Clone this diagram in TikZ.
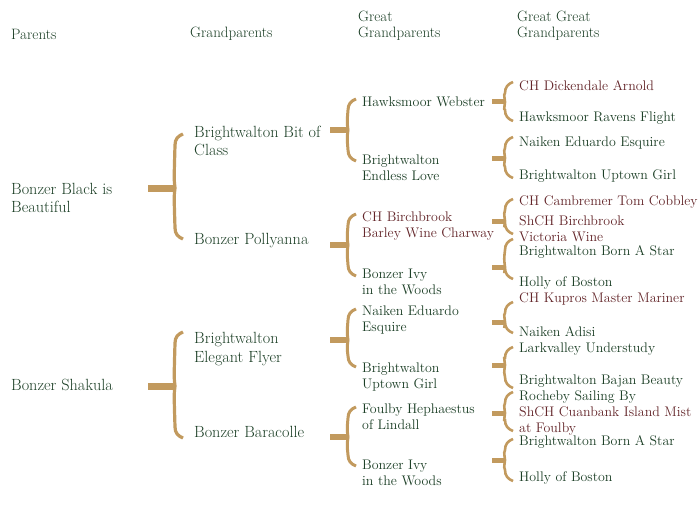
\documentclass[tikz,border=0pt]{standalone}
\usepackage{fontspec}
\setmainfont{Latin Modern Roman}
\definecolor{gold}{HTML}{C29A5E}
\definecolor{grn}{HTML}{1C3F26}
\definecolor{mar}{HTML}{632529}
\tikzset{
  lbl/.style={anchor=west,inner sep=0pt,align=left,text=grn},
  big/.style={lbl,font=\fontsize{16.2}{18.5}\selectfont},
  sml/.style={lbl,font=\fontsize{13.9}{16}\selectfont},
  hdr/.style={lbl,font=\fontsize{15}{16}\selectfont},
  ch/.style={text=mar},
}
% \Brk{xv}{top}{bottom}{stub y}{stub start x}{stub width}{line width}
\newcommand\Brk[7]{%
  \draw[gold,line width=#7,line cap=butt]
    (#1+8,#2-1) .. controls (#1+3,#2+1) and (#1,#2+4) .. (#1,#2+10)
    .. controls (#1-1,#4-8) .. (#1,#4)
    .. controls (#1-1,#4+8) .. (#1,#3-10)
    .. controls (#1,#3-4) and (#1+3,#3-1) .. (#1+8,#3+1);
  \draw[gold,line width=#6] (#5,#4) -- (#1+0.5,#4);
}
\begin{document}
\begin{tikzpicture}[x=1pt,y=-1pt]
\useasboundingbox[fill=white] (0,0) rectangle (700,505);
% headers
\node[hdr] (h1) at (11,34) {Parents};
\node[hdr] (h2) at (190,34) {Grandparents};
\node[hdr] (h3) at (358,26) {Great\\Grandparents};
\node[hdr] (h4) at (517,26) {Great Great\\Grandparents};
% generation 1
\node[big] (p1) at (11,198) {Bonzer Black is\\Beautiful};
\node[big] (p2) at (11,385) {Bonzer Shakula};
% generation 2
\node[big] (g1) at (194,141) {Brightwalton Bit of\\Class};
\node[big] (g2) at (194,241) {Bonzer Pollyanna};
\node[big] (g3) at (194,349) {Brightwalton\\Elegant Flyer};
\node[big] (g4) at (194,432) {Bonzer Baracolle};
% generation 3
\node[sml] (s1) at (362,102) {Hawksmoor Webster};
\node[sml] (s2) at (362,168) {Brightwalton\\Endless Love};
\node[sml,ch] (s3) at (362,226) {CH Birchbrook\\Barley Wine Charway};
\node[sml] (s4) at (362,282) {Bonzer Ivy\\in the Woods};
\node[sml] (s5) at (362,320) {Naiken Eduardo\\Esquire};
\node[sml] (s6) at (362,377) {Brightwalton\\Uptown Girl};
\node[sml] (s7) at (362,417) {Foulby Hephaestus\\of Lindall};
\node[sml] (s8) at (362,473) {Bonzer Ivy\\in the Woods};
% generation 4
\node[sml,ch] (t1) at (519,86) {CH Dickendale Arnold};
\node[sml] (t2) at (519,118) {Hawksmoor Ravens Flight};
\node[sml] (t3) at (519,143) {Naiken Eduardo Esquire};
\node[sml] (t4) at (519,176) {Brightwalton Uptown Girl};
\node[sml,ch] (t5) at (519,202) {CH Cambremer Tom Cobbley};
\node[sml,ch] (t6) at (519,229) {ShCH Birchbrook\\Victoria Wine};
\node[sml] (t7) at (519,252) {Brightwalton Born A Star};
\node[sml] (t8) at (519,283) {Holly of Boston};
\node[sml,ch] (t9) at (519,299) {CH Kupros Master Mariner};
\node[sml] (t10) at (519,332) {Naiken Adisi};
\node[sml] (t11) at (519,349) {Larkvalley Understudy};
\node[sml] (t12) at (519,381) {Brightwalton Bajan Beauty};
\node[sml] (t13) at (519,397) {Rocheby Sailing By};
\node[sml,ch] (t14) at (519,421) {ShCH Cuanbank Island Mist\\at Foulby};
\node[sml] (t15) at (519,442) {Brightwalton Born A Star};
\node[sml] (t16) at (519,478) {Holly of Boston};
% brackets gen1 -> gen2
\Brk{175}{135}{238}{188}{148}{7pt}{3.2pt}
\Brk{175}{333}{437}{386}{148}{7pt}{3.2pt}
% brackets gen2 -> gen3
\Brk{348}{100}{160}{130}{330}{6pt}{3pt}
\Brk{348}{215}{275}{245}{330}{6pt}{3pt}
\Brk{348}{310}{366}{340}{330}{6pt}{3pt}
\Brk{348}{408}{465}{437}{330}{6pt}{3pt}
% brackets gen3 -> gen4
\Brk{505}{83}{120}{102}{492}{5pt}{2.6pt}
\Brk{505}{138}{177}{158}{492}{5pt}{2.6pt}
\Brk{505}{200}{233}{221}{492}{5pt}{2.6pt}
\Brk{505}{240}{278}{267}{492}{5pt}{2.6pt}
\Brk{505}{303}{332}{322}{492}{5pt}{2.6pt}
\Brk{505}{348}{387}{365}{492}{5pt}{2.6pt}
\Brk{505}{393}{430}{413}{492}{5pt}{2.6pt}
\Brk{505}{440}{480}{460}{492}{5pt}{2.6pt}
\end{tikzpicture}
\end{document}
